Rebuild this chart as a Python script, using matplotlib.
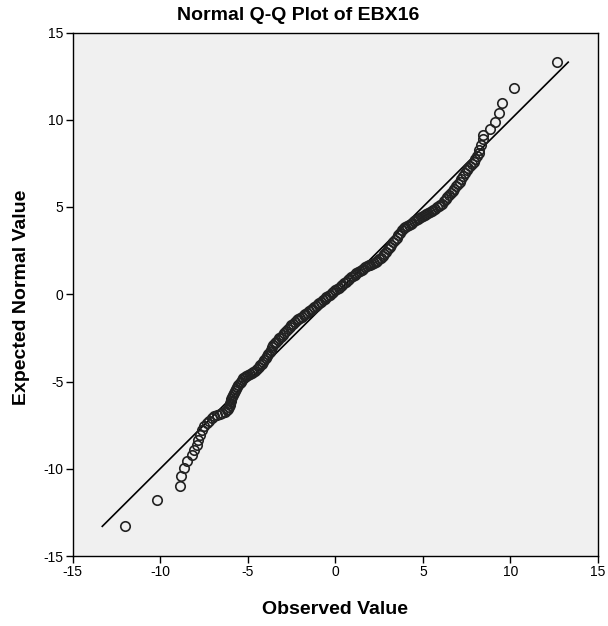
import matplotlib
matplotlib.use("Agg")
import matplotlib.pyplot as plt

plt.rcParams['font.family'] = ['Liberation Sans', 'DejaVu Sans']

title = "Normal Q-Q Plot of EBX16"
x_label = "Observed Value"
y_label = "Expected Normal Value"
ticks = [-15, -10, -5, 0, 5, 10, 15]
tick_labels = ["-15", "-10", "-5", "0", "5", "10", "15"]
line_range = [-13.3, 13.3]

# observed values (x)
observed = [
    -12.0, -10.15, -8.86, -8.82, -8.63, -8.44, -8.19, -8.06, -7.90, -7.81, -7.71, -7.62,
    -7.49, -7.33, -7.2, -7.05, -6.9, -6.76, -6.6, -6.47, -6.3, -6.19,
    -6.15, -6.08, -6.03, -6.0, -5.97, -5.94, -5.9, -5.86, -5.8, -5.74, -5.68, -5.6,
    -5.53, -5.46, -5.4, -5.34, -5.27,
    -5.18, -5.08, -4.98, -4.88, -4.78, -4.68, -4.58, -4.48, -4.38, -4.28,
    -4.2, -4.12, -4.04, -3.96, -3.89, -3.82, -3.75, -3.68, -3.61, -3.54, -3.46,
    -3.38, -3.29, -3.2, -3.1,
    -3.0, -2.9, -2.8, -2.7, -2.6, -2.5, -2.4, -2.3, -2.2, -2.1, -2.0, -1.9, -1.8,
    -1.7, -1.6, -1.5, -1.4, -1.3, -1.2, -1.1, -1.0, -0.9, -0.8, -0.7, -0.6, -0.5,
    -0.4, -0.3, -0.2, -0.1, 0.0, 0.1, 0.2, 0.3, 0.4, 0.5, 0.6, 0.7, 0.8, 0.9, 1.0,
    1.1, 1.2, 1.3, 1.4, 1.5, 1.6, 1.7, 1.8,
    1.9, 2.0, 2.1, 2.2, 2.3, 2.4,
    2.5, 2.6, 2.7, 2.8, 2.9, 3.0, 3.1, 3.2, 3.3, 3.4, 3.5, 3.6, 3.7, 3.8, 3.9,
    4.0, 4.1, 4.2, 4.3, 4.4, 4.5, 4.6, 4.7, 4.8, 4.9, 5.0, 5.1, 5.2, 5.3, 5.4,
    5.5, 5.6, 5.7, 5.8, 5.9, 6.0, 6.1,
    6.2, 6.3, 6.4, 6.5, 6.6, 6.7, 6.8, 6.9, 7.0, 7.1, 7.2, 7.3, 7.4, 7.5, 7.6,
    7.7, 7.8, 7.9, 8.0, 8.1,
    8.19, 8.19, 8.32, 8.44, 8.44, 8.86, 9.10, 9.33, 9.52, 10.22, 12.66,
]

# expected normal values (y)
expected = [
    -13.3, -11.8, -11.0, -10.4, -9.95, -9.57, -9.19, -8.90, -8.62, -8.33, -8.04, -7.80,
    -7.57, -7.4, -7.28, -7.12, -7.0, -6.9, -6.84, -6.78, -6.72, -6.66,
    -6.58, -6.46, -6.34, -6.22, -6.1, -5.98, -5.86, -5.75, -5.64, -5.53, -5.43, -5.33,
    -5.22, -5.1, -5.0, -4.9, -4.8,
    -4.74, -4.68, -4.62, -4.55, -4.49, -4.43, -4.37, -4.28, -4.18, -4.08,
    -3.98, -3.88, -3.77, -3.65, -3.53, -3.41, -3.29, -3.17, -3.05, -2.93, -2.82,
    -2.72, -2.62, -2.52, -2.43,
    -2.33, -2.22, -2.1, -1.98, -1.88, -1.78, -1.68, -1.58, -1.49, -1.42, -1.35, -1.28, -1.2,
    -1.12, -1.05, -0.97, -0.9, -0.82, -0.74, -0.65, -0.57, -0.5, -0.42, -0.34, -0.26, -0.18,
    -0.11, -0.03, 0.06, 0.14, 0.22, 0.3, 0.38, 0.46, 0.55, 0.63, 0.72, 0.8, 0.88, 0.96, 1.05,
    1.13, 1.21, 1.28, 1.34, 1.41, 1.47, 1.54, 1.6,
    1.65, 1.7, 1.75, 1.8, 1.85, 1.91,
    2.0, 2.1, 2.2, 2.32, 2.44, 2.57, 2.7, 2.84, 2.97, 3.1, 3.24, 3.38, 3.52, 3.66, 3.8,
    3.87, 3.93, 3.99, 4.05, 4.11, 4.18, 4.25, 4.3, 4.36, 4.42, 4.47, 4.53, 4.58, 4.64, 4.7,
    4.77, 4.84, 4.91, 4.98, 5.05, 5.12, 5.2,
    5.32, 5.44, 5.56, 5.68, 5.8, 5.93, 6.06, 6.19, 6.32, 6.45, 6.6, 6.76, 6.93, 7.1, 7.22,
    7.34, 7.47, 7.6, 7.76, 7.92,
    8.08, 8.27, 8.56, 8.89, 9.13, 9.48, 9.89, 10.37, 10.98, 11.80, 13.33,
]

fig = plt.figure(figsize=(6.08, 6.26), dpi=100)
ax = fig.add_axes([72.5 / 608, 1 - 556 / 626, (598 - 72.5) / 608, (556 - 32.5) / 626])
ax.set_facecolor('#F0F0F0')

ax.plot(line_range, line_range, color='black', lw=1.2, zorder=2)
ax.plot(observed, expected, linestyle='none', marker='o', markersize=6.8,
        markerfacecolor='none', markeredgecolor='#222222', markeredgewidth=1.2, zorder=3)

ax.set_xlim(-15, 15)
ax.set_ylim(-15, 15)
ax.set_xticks(ticks)
ax.set_xticklabels(tick_labels)
ax.set_yticks(ticks)
ax.set_yticklabels(tick_labels)
ax.tick_params(direction='out', length=5, width=1, labelsize=10, colors='black', pad=1.5)
for s in ax.spines.values():
    s.set_color('black')
    s.set_linewidth(1.0)

fig.text(0.49, 1 - 15 / 626, title, fontsize=14, fontweight='bold', ha='center', va='center')
fig.text((72.5 + 598) / 2 / 608, 1 - 610 / 626, x_label, fontsize=14, fontweight='bold',
         ha='center', va='center')
fig.text(22 / 608, 1 - 297 / 626, y_label, fontsize=14, fontweight='bold',
         ha='center', va='center', rotation=90)

fig.savefig('out.png', dpi=100, facecolor='white')
